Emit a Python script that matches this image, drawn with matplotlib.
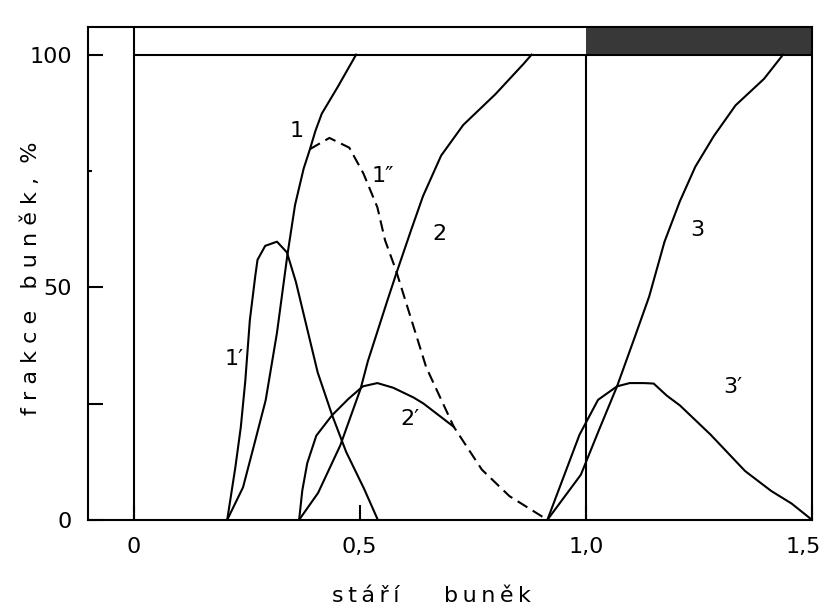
import matplotlib
matplotlib.use("Agg")
import matplotlib.pyplot as plt
import matplotlib.transforms as mtransforms

# curve 1 - cumulative fraction, first cycle
x1 = [0.207, 0.242, 0.267, 0.292, 0.317, 0.340, 0.357, 0.376, 0.390, 0.402, 0.416, 0.451, 0.492]
y1 = [0, 7.0, 16.3, 25.7, 40.2, 56.9, 67.7, 75.5, 79.7, 83.6, 87.3, 93.0, 100]

# curve 1' - peak
x1p = [0.207, 0.225, 0.237, 0.247, 0.257, 0.269, 0.274, 0.291, 0.317, 0.339, 0.359,
       0.382, 0.407, 0.439, 0.470, 0.510, 0.540]
y1p = [0, 11.3, 19.9, 29.9, 42.9, 52.4, 55.9, 58.9, 59.8, 57.5, 51.1,
       41.8, 31.7, 22.5, 14.6, 6.6, 0]

# curve 1'' - dashed
x1pp = [0.390, 0.433, 0.477, 0.508, 0.539, 0.556, 0.580, 0.647, 0.708, 0.770, 0.831, 0.915]
y1pp = [79.7, 82.1, 80.0, 74.5, 67.2, 60.1, 53.7, 32.8, 20.0, 10.8, 5.1, 0]

# curve 2
x2 = [0.366, 0.408, 0.457, 0.502, 0.518, 0.561, 0.581, 0.614, 0.640, 0.680, 0.729, 0.800, 0.863, 0.880]
y2 = [0, 5.8, 16.0, 28.2, 34.1, 47.1, 53.0, 62.4, 69.6, 78.3, 84.9, 91.5, 98.1, 100]

# curve 2'
x2p = [0.366, 0.373, 0.384, 0.404, 0.439, 0.475, 0.507, 0.539, 0.574, 0.619, 0.641, 0.708]
y2p = [0, 6.3, 12.2, 18.1, 22.5, 26.0, 28.7, 29.4, 28.4, 26.3, 25.0, 20.0]

# curve 3
x3 = [0.915, 0.989, 1.029, 1.069, 1.109, 1.140, 1.174, 1.208, 1.242, 1.283, 1.331, 1.394, 1.436]
y3 = [0, 9.7, 19.3, 28.7, 39.5, 48.0, 59.8, 68.5, 75.9, 82.5, 89.1, 94.8, 100]

# curve 3'
x3p = [0.915, 0.986, 1.027, 1.069, 1.097, 1.128, 1.150, 1.179, 1.208, 1.276, 1.352, 1.410, 1.455, 1.500]
y3p = [0, 18.3, 25.8, 28.7, 29.4, 29.4, 29.3, 26.7, 24.6, 18.3, 10.5, 6.2, 3.5, 0]

# curve labels
labels = ["1", "1\u2032", "1\u2033", "2", "2\u2032", "3", "3\u2032"]
label_x = [0.36, 0.222, 0.55, 0.677, 0.612, 1.246, 1.325]
label_y = [83.5, 34.6, 74.0, 61.4, 21.7, 62.3, 28.5]

xticks = [0, 0.5, 1.0, 1.5]
xticklabels = ["0", "0,5", "1,0", "1,5"]
yticks = [0, 25, 50, 100]
yticklabels = ["0", "", "50", "100"]

plt.rcParams['font.family'] = ['DejaVu Sans']
lw = 1.5

fig = plt.figure(figsize=(8.26, 6.08), dpi=100)
ax = fig.add_axes([0.107, 0.145, 0.876, 0.811])

ax.set_xlim(-0.1, 1.5)
ax.set_ylim(0, 106)

# top band: white before 1.0, dark after
ax.fill_between([1.0, 1.5], 100, 106, color="#383838", lw=0)
ax.hlines(100, 0, 1.5, color="k", lw=lw)
ax.axvline(0, color="k", lw=lw)
ax.vlines(1.0, 0, 100, color="k", lw=lw)

ax.plot(x1, y1, color="k", lw=lw)
ax.plot(x1p, y1p, color="k", lw=lw)
ax.plot(x1pp, y1pp, color="k", lw=lw, dashes=(5.5, 3))
ax.plot(x2, y2, color="k", lw=lw)
ax.plot(x2p, y2p, color="k", lw=lw)
ax.plot(x3, y3, color="k", lw=lw)
ax.plot(x3p, y3p, color="k", lw=lw)

for t, lx, ly in zip(labels, label_x, label_y):
    ax.text(lx, ly, t, fontsize=16, ha="center", va="center")

for s in ax.spines.values():
    s.set_linewidth(lw)

ax.set_xticks(xticks)
ax.set_xticklabels(xticklabels, fontsize=16)
ax.set_yticks(yticks)
ax.set_yticklabels(yticklabels, fontsize=16)
ax.set_yticks([75], minor=True)
ax.tick_params(axis="both", which="major", direction="in", length=11, width=lw, pad=12)
ax.tick_params(axis="y", which="minor", direction="in", length=3, width=lw)

# keep the last x tick label inside the figure
last = ax.get_xticklabels()[-1]
last.set_transform(last.get_transform() + mtransforms.ScaledTranslation(-6 / 72, 0, fig.dpi_scale_trans))

ax.set_xlabel("s\u2009t\u2009á\u2009ř\u2009í\u2003\u2003b\u2009u\u2009n\u2009ě\u2009k", fontsize=16)
ax.xaxis.set_label_coords(0.474, -0.134)
ax.set_ylabel("f r a k c e   b u n ě k ,  %", fontsize=16)
ax.yaxis.set_label_coords(-0.066, 0.49)

plt.savefig("out.png", dpi=100)
